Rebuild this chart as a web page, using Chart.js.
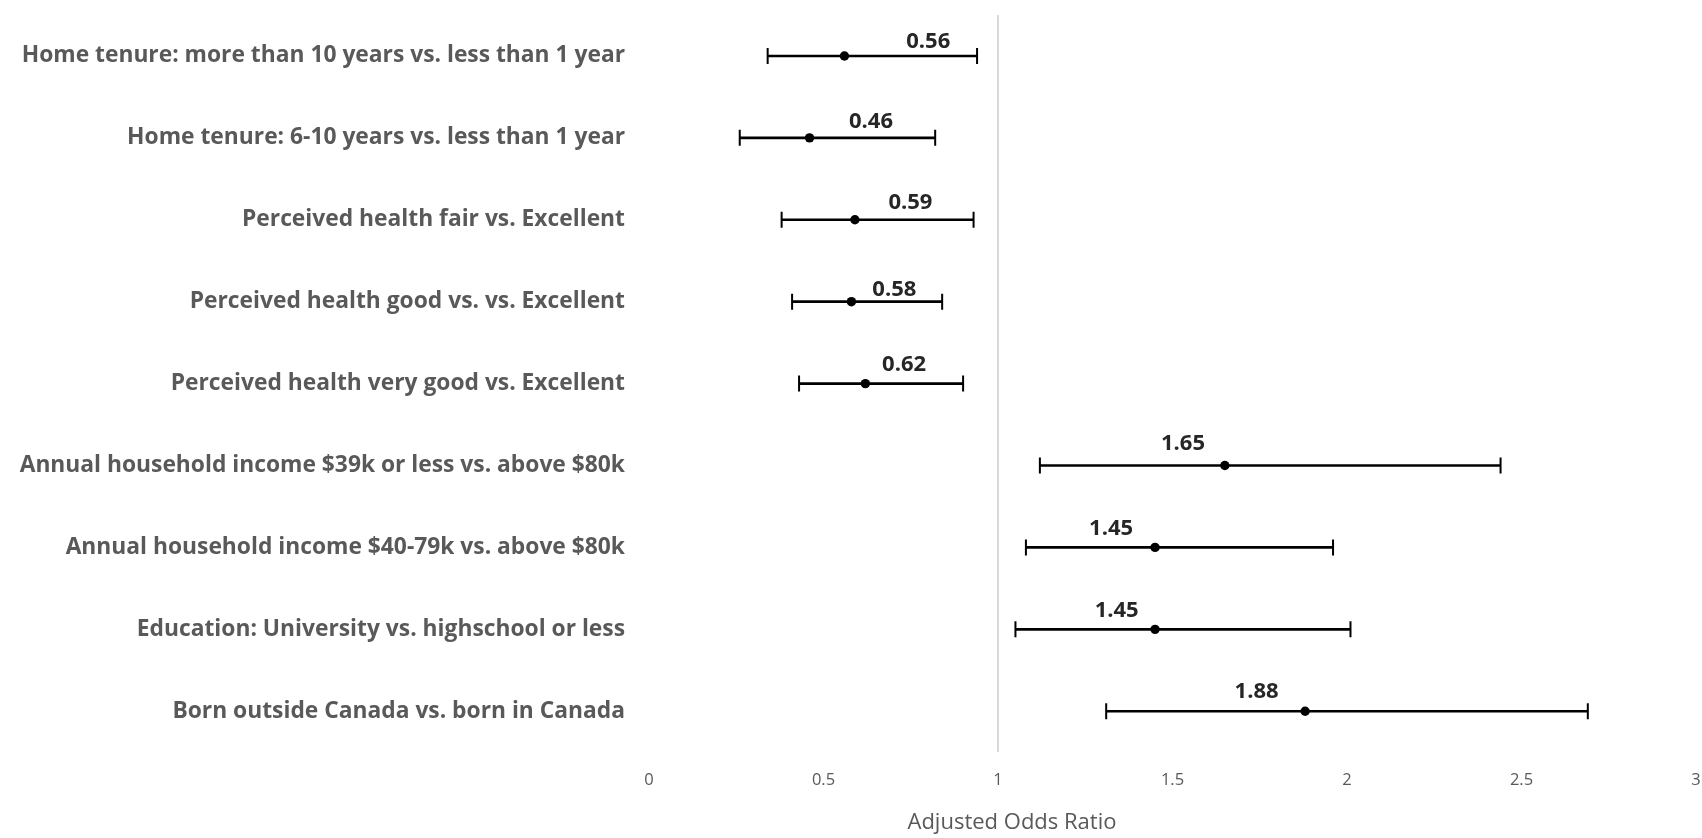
<!DOCTYPE html>
<html>
<head>
<meta charset="utf-8">
<script src="https://cdn.jsdelivr.net/npm/chart.js@4/dist/chart.umd.min.js"></script>
<style>
    html, body { margin: 0; padding: 0; background: #fff; }
    #wrap { width: 1702px; height: 838px; position: relative; }
</style>
</head>
<body>
<div id="wrap"><canvas id="forestChart"></canvas></div>
<script>
// Categories, top to bottom
const categories = [
    "Home tenure: more than 10 years vs. less than 1 year",
    "Home tenure: 6-10 years vs. less than 1 year",
    "Perceived health fair vs. Excellent",
    "Perceived health good vs. vs. Excellent",
    "Perceived health very good vs. Excellent",
    "Annual household income $39k or less vs. above $80k",
    "Annual household income $40-79k vs. above $80k",
    "Education: University vs. highschool or less",
    "Born outside Canada vs. born in Canada",
];

// Adjusted odds ratios and 95% CI
const oddsRatio = [0.56, 0.46, 0.59, 0.58, 0.62, 1.65, 1.45, 1.45, 1.88];
const ciLow = [0.34, 0.26, 0.38, 0.41, 0.43, 1.12, 1.08, 1.05, 1.31];
const ciHigh = [0.94, 0.82, 0.93, 0.84, 0.90, 2.44, 1.96, 2.01, 2.69];

// X axis ticks
const xTicks = [0, 0.5, 1, 1.5, 2, 2.5, 3];
const xTitle = "Adjusted Odds Ratio";

const FONT = "'Open Sans', Lato, sans-serif";
const GREY = "#595959";

// Value labels were hand placed in the original:
// x in axis units, lift in px above the point
const valueLabelAt = [0.80, 0.636, 0.749, 0.703, 0.731, 1.53, 1.324, 1.34, 1.741];
const valueLabelLift = [14, 16, 17, 12, 19, 22, 19, 19, 20];

const valueLabels = {
    id: "valueLabels",
    afterDatasetsDraw(chart) {
        const { ctx, scales } = chart;
        ctx.save();
        ctx.font = `bold 22px ${FONT}`;
        ctx.fillStyle = "#262626";
        ctx.textAlign = "center";
        ctx.textBaseline = "middle";
        oddsRatio.forEach((v, i) => {
            const x = scales.x.getPixelForValue(valueLabelAt[i]);
            const y = scales.y.getPixelForValue(i) - valueLabelLift[i];
            ctx.fillText(v.toFixed(2), x, y);
        });
        ctx.restore();
    },
};

// Axis title is off-centre in the original, so draw it by hand
const axisTitle = {
    id: "axisTitle",
    afterDraw(chart) {
        const { ctx, scales } = chart;
        ctx.save();
        ctx.font = `22px ${FONT}`;
        ctx.fillStyle = GREY;
        ctx.textAlign = "center";
        ctx.textBaseline = "middle";
        ctx.fillText(xTitle, scales.x.getPixelForValue(1.04), 823);
        ctx.restore();
    },
};

const pts = (vals) => vals.map((v, i) => ({ x: v, y: categories[i] }));

new Chart(document.getElementById("forestChart"), {
    type: "bar",
    data: {
        labels: categories,
        datasets: [
            {
                label: "CI",
                data: ciLow.map((l, i) => [l, ciHigh[i]]),
                backgroundColor: "#000",
                barThickness: 2,
                indexAxis: "y",
                order: 3,
            },
            {
                type: "line",
                label: "low",
                data: pts(ciLow),
                indexAxis: "y",
                showLine: false,
                pointStyle: "line",
                rotation: 90,
                radius: 8,
                borderWidth: 2,
                borderColor: "#000",
                order: 2,
            },
            {
                type: "line",
                label: "high",
                data: pts(ciHigh),
                indexAxis: "y",
                showLine: false,
                pointStyle: "line",
                rotation: 90,
                radius: 8,
                borderWidth: 2,
                borderColor: "#000",
                order: 2,
            },
            {
                type: "line",
                label: "OR",
                data: pts(oddsRatio),
                indexAxis: "y",
                showLine: false,
                pointStyle: "circle",
                radius: 4.7,
                borderWidth: 0,
                backgroundColor: "#000",
                borderColor: "#000",
                order: 1,
            },
        ],
    },
    options: {
        indexAxis: "y",
        responsive: true,
        maintainAspectRatio: false,
        animation: false,
        layout: {
            autoPadding: false,
            padding: { top: 15, right: 6, bottom: 30, left: 0 },
        },
        scales: {
            x: {
                type: "linear",
                min: 0,
                max: 3,
                afterBuildTicks: (scale) => {
                    scale.ticks = xTicks.map((v) => ({ value: v }));
                },
                grid: {
                    color: (c) => (c.tick && c.tick.value === 1 ? "#d9d9d9" : "rgba(0,0,0,0)"),
                    lineWidth: 2,
                    drawTicks: false,
                },
                border: { display: false },
                ticks: {
                    color: GREY,
                    font: { family: FONT, size: 16.5 },
                    padding: 18,
                    maxRotation: 0,
                    callback: (v) => String(v),
                },
                afterFit: (scale) => {
                    scale.paddingLeft = 0;
                    scale.paddingRight = 0;
                },
            },
            y: {
                type: "category",
                offset: true,
                grid: { display: false, drawTicks: false },
                border: { display: false },
                ticks: {
                    color: GREY,
                    font: { family: FONT, size: 22.8, weight: "bold" },
                    padding: 24,
                },
                afterFit: (scale) => {
                    scale.width = 649;
                    scale.paddingTop = 0;
                    scale.paddingBottom = 0;
                },
            },
        },
        plugins: {
            legend: { display: false },
            tooltip: { enabled: false },
        },
    },
    plugins: [valueLabels, axisTitle],
});
</script>
</body>
</html>
